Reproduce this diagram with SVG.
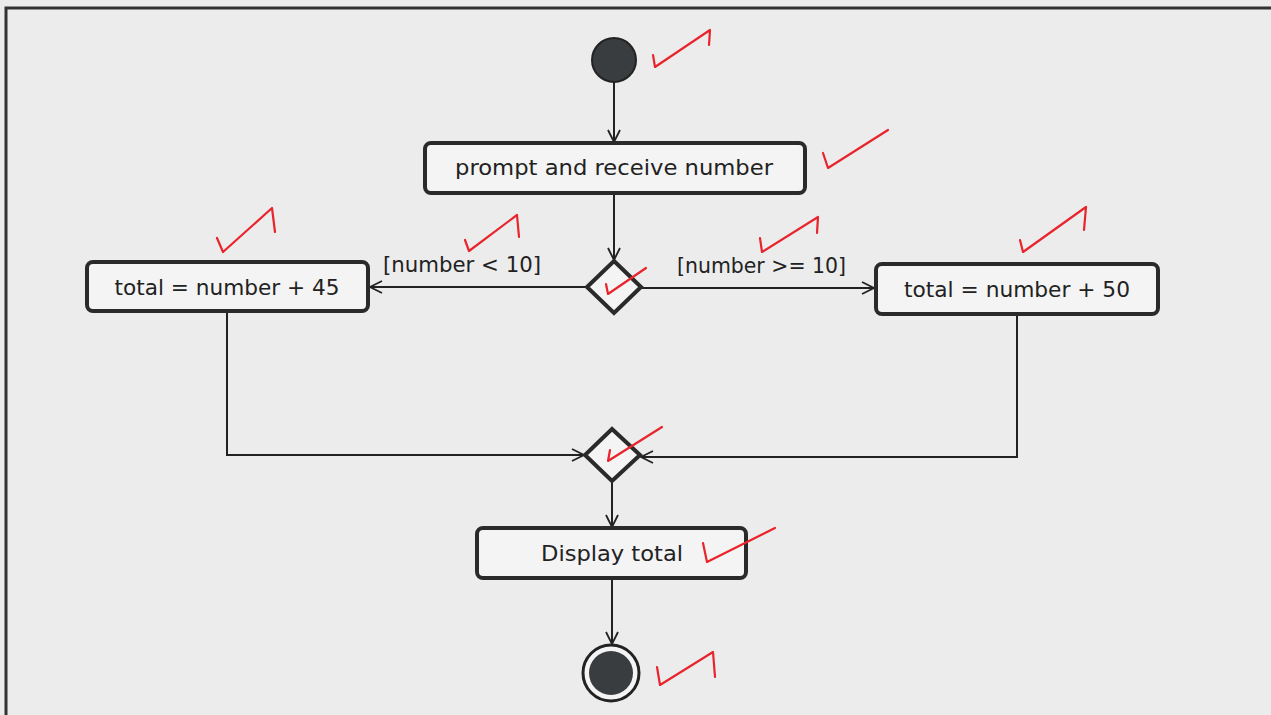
<svg xmlns="http://www.w3.org/2000/svg" width="1271" height="715" viewBox="0 0 1271 715">
<defs>
<marker id="arr" viewBox="0 0 14 14" refX="13" refY="7" markerWidth="14" markerHeight="14" markerUnits="userSpaceOnUse" orient="auto">
<path d="M1,1 L13,7 L1,13" fill="none" stroke="#222" stroke-width="1.8"/>
</marker>
</defs>
<style>
.box{fill:#f4f4f4;stroke:#2a2a2a;stroke-width:4}
.lbl{font-family:"DejaVu Sans","Liberation Sans",sans-serif;font-size:22px;fill:#222;text-anchor:middle}
.guard{font-family:"DejaVu Sans","Liberation Sans",sans-serif;font-size:21px;fill:#222}
.edge{fill:none;stroke:#222;stroke-width:2}
.tick{fill:none;stroke:#e8242c;stroke-width:2.2;stroke-linejoin:round;stroke-linecap:round}
.dia{fill:#f4f4f4;stroke:#2a2a2a;stroke-width:4}
</style>
<rect x="0" y="0" width="1271" height="715" fill="#ececec"/>
<path d="M6,715 L6,8 L1271,8" fill="none" stroke="#333" stroke-width="3"/>

<g id="edges">
<line class="edge" x1="614" y1="82" x2="614" y2="142" marker-end="url(#arr)"/>
<line class="edge" x1="614" y1="193" x2="614" y2="260" marker-end="url(#arr)"/>
<line class="edge" x1="587" y1="287" x2="370" y2="287" marker-end="url(#arr)"/>
<line class="edge" x1="641" y1="288" x2="874" y2="288" marker-end="url(#arr)"/>
<polyline class="edge" points="227,311 227,455 584,455" marker-end="url(#arr)"/>
<polyline class="edge" points="1017,314 1017,457 641,457" marker-end="url(#arr)"/>
<line class="edge" x1="612" y1="482" x2="612" y2="527" marker-end="url(#arr)"/>
<line class="edge" x1="612" y1="578" x2="612" y2="644" marker-end="url(#arr)"/>
<text class="guard" x="383" y="272" textLength="158" lengthAdjust="spacingAndGlyphs">[number &lt; 10]</text>
<text class="guard" x="677" y="273" textLength="169" lengthAdjust="spacingAndGlyphs">[number &gt;= 10]</text>
</g>

<g id="start"><circle cx="614" cy="60" r="22" fill="#3a3d40" stroke="#222" stroke-width="2"/></g>
<g id="prompt"><rect class="box" x="425" y="143" width="380" height="50" rx="6"/><text class="lbl" x="614" y="175" textLength="318" lengthAdjust="spacingAndGlyphs">prompt and receive number</text></g>
<g id="decision"><polygon class="dia" points="614,261 641,287 614,313 587,287"/></g>
<g id="plus45"><rect class="box" x="87" y="262" width="281" height="49" rx="6"/><text class="lbl" x="227" y="295" textLength="225" lengthAdjust="spacingAndGlyphs">total = number + 45</text></g>
<g id="plus50"><rect class="box" x="876" y="264" width="282" height="50" rx="6"/><text class="lbl" x="1017" y="297" textLength="226" lengthAdjust="spacingAndGlyphs">total = number + 50</text></g>
<g id="merge"><polygon class="dia" points="612,429 640,455 612,481 585,455"/></g>
<g id="display"><rect class="box" x="477" y="528" width="269" height="50" rx="6"/><text class="lbl" x="612" y="561" textLength="142" lengthAdjust="spacingAndGlyphs">Display total</text></g>
<g id="end"><circle cx="611" cy="673" r="28" fill="#f4f4f4" stroke="#222" stroke-width="3"/><circle cx="611" cy="673" r="22" fill="#3a3d40"/></g>

<g id="ticks">
<polyline class="tick" points="653,55 655,67 710,30 709,45"/>
<polyline class="tick" points="823,153 828,168 888,130"/>
<polyline class="tick" points="217,238 223,252 272,208 275,232"/>
<polyline class="tick" points="465,240 469,251 517,215 519,237"/>
<polyline class="tick" points="606,284 608,294 646,268"/>
<polyline class="tick" points="760,238 762,252 818,217 817,233"/>
<polyline class="tick" points="1020,240 1023,252 1086,207 1084,230"/>
<polyline class="tick" points="610,450 608,461 662,427"/>
<polyline class="tick" points="703,543 707,562 775,528"/>
<polyline class="tick" points="657,667 660,685 713,652 715,677"/>
</g>
</svg>
